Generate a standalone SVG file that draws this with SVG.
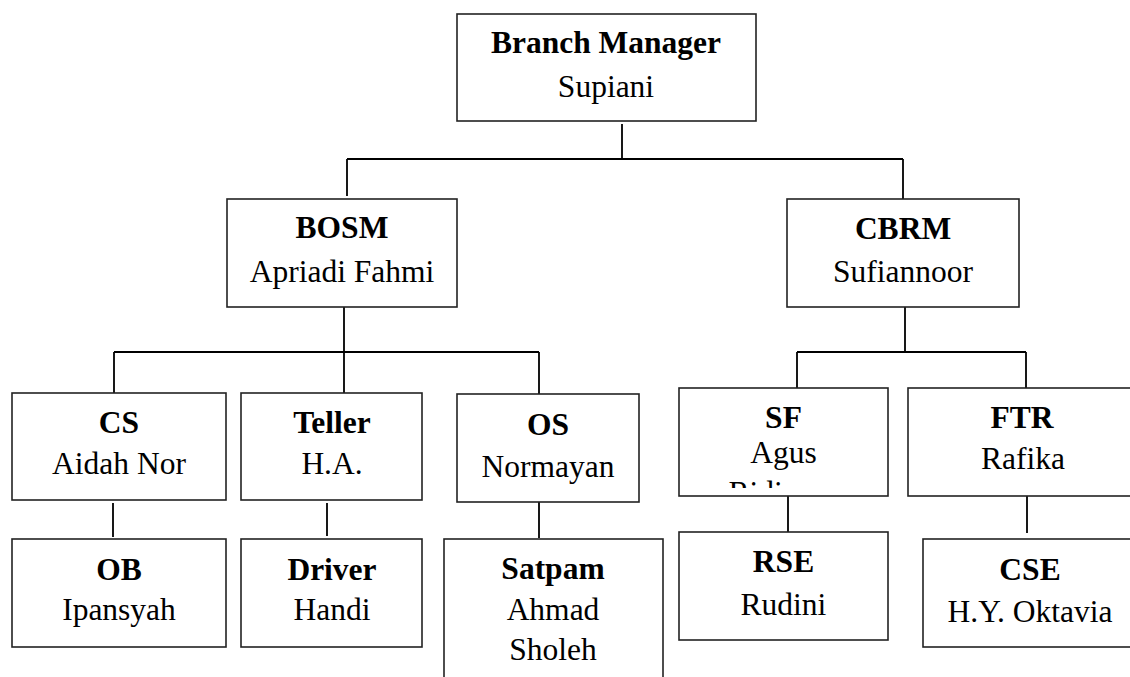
<svg xmlns="http://www.w3.org/2000/svg" width="1130" height="677" viewBox="0 0 1130 677">
<style>
.box{fill:#fff;stroke:#222;stroke-width:1.6}
.t{font-family:"Liberation Serif","Times New Roman",serif;font-size:31.5px;text-anchor:middle;fill:#000}
.b{font-weight:bold}
.ln{stroke:#000;stroke-width:1.8;fill:none}
</style>
<defs>
<clipPath id="sfclip"><rect x="679" y="388" width="209" height="100"/></clipPath>
</defs>
<rect width="1130" height="677" fill="#fff"/>
<g id="connectors">
<path class="ln" d="M622 124V159M347 159H903M347 159V196M903 159V199"/>
<path class="ln" d="M344 307V393M114 352H539M114 352V393M539 352V394"/>
<path class="ln" d="M905 307V352M797 352H1026M797 352V388M1026 352V388"/>
<path class="ln" d="M113 503V537M327 503V536M539 502V538M788 496V532M1027 496V533"/>
</g>
<g id="branch-manager">
<rect class="box" x="457" y="14" width="299" height="107"/>
<text class="t b" x="606" y="53">Branch Manager</text>
<text class="t" x="606" y="97">Supiani</text>
</g>
<g id="bosm">
<rect class="box" x="227" y="199" width="230" height="108"/>
<text class="t b" x="342" y="238">BOSM</text>
<text class="t" x="342" y="282">Apriadi Fahmi</text>
</g>
<g id="cbrm">
<rect class="box" x="787" y="199" width="232" height="108"/>
<text class="t b" x="903" y="239">CBRM</text>
<text class="t" x="903" y="282">Sufiannoor</text>
</g>
<g id="cs">
<rect class="box" x="12" y="393" width="214" height="107"/>
<text class="t b" x="119" y="433">CS</text>
<text class="t" x="119" y="474">Aidah Nor</text>
</g>
<g id="teller">
<rect class="box" x="241" y="393" width="181" height="107"/>
<text class="t b" x="332" y="433">Teller</text>
<text class="t" x="332" y="474">H.A.</text>
</g>
<g id="os">
<rect class="box" x="457" y="394" width="182" height="108"/>
<text class="t b" x="548" y="435">OS</text>
<text class="t" x="548" y="477">Normayan</text>
</g>
<g id="sf">
<rect class="box" x="679" y="388" width="209" height="108"/>
<text class="t b" x="783.5" y="428">SF</text>
<text class="t" x="783.5" y="463">Agus</text>
<text class="t" x="783.5" y="503" clip-path="url(#sfclip)">Ridianor</text>
</g>
<g id="ftr">
<rect class="box" x="908" y="388" width="230" height="108"/>
<text class="t b" x="1022" y="428">FTR</text>
<text class="t" x="1023" y="469">Rafika</text>
</g>
<g id="ob">
<rect class="box" x="12" y="539" width="214" height="108"/>
<text class="t b" x="119" y="580">OB</text>
<text class="t" x="119" y="620">Ipansyah</text>
</g>
<g id="driver">
<rect class="box" x="241" y="539" width="181" height="108"/>
<text class="t b" x="332" y="580">Driver</text>
<text class="t" x="332" y="620">Handi</text>
</g>
<g id="satpam">
<rect class="box" x="444" y="539" width="219" height="160"/>
<text class="t b" x="553" y="579">Satpam</text>
<text class="t" x="553" y="620">Ahmad</text>
<text class="t" x="553" y="660">Sholeh</text>
</g>
<g id="rse">
<rect class="box" x="679" y="532" width="209" height="108"/>
<text class="t b" x="783.5" y="572">RSE</text>
<text class="t" x="783.5" y="615">Rudini</text>
</g>
<g id="cse">
<rect class="box" x="923" y="539" width="214" height="108"/>
<text class="t b" x="1030" y="580">CSE</text>
<text class="t" x="1030" y="622">H.Y. Oktavia</text>
</g>
</svg>
